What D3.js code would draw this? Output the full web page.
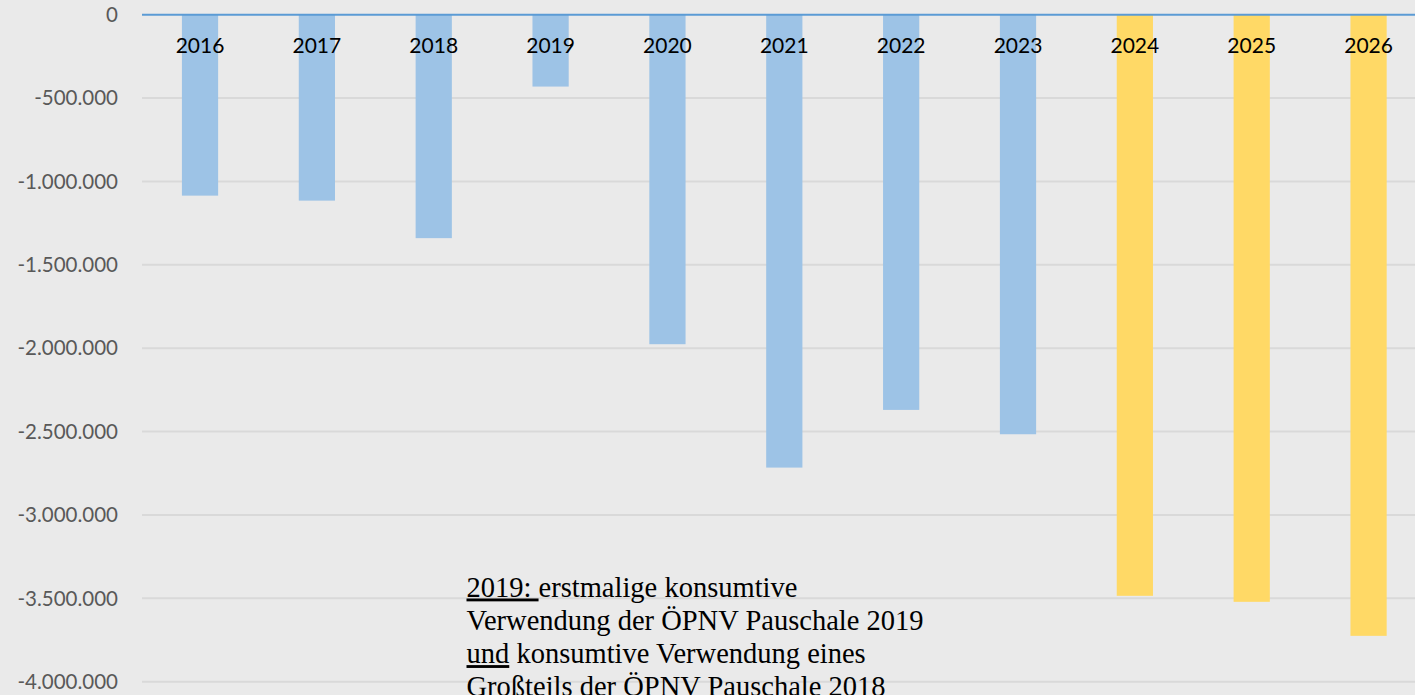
<!DOCTYPE html>
<html>
<head>
<meta charset="utf-8">
<script src="https://cdn.jsdelivr.net/npm/d3@7/dist/d3.min.js"></script>
<style>
html, body { margin: 0; padding: 0; background: #EAEAEA; overflow: hidden; }
svg { display: block; }
</style>
</head>
<body>
<svg id="chart" width="1415" height="695"></svg>
<script>
const categories = ["2016","2017","2018","2019","2020","2021","2022","2023","2024","2025","2026"];
const values = [-1085000,-1115000,-1340000,-431000,-1976000,-2716000,-2370000,-2516000,-3485000,-3521000,-3725000];
const seriesColorKey = ["ist","ist","ist","ist","ist","ist","ist","ist","plan","plan","plan"];
const yTicks = [0,-500000,-1000000,-1500000,-2000000,-2500000,-3000000,-3500000,-4000000];
const noteLines = [
  [{t:"2019: ", u:true},{t:"erstmalige konsumtive", u:false}],
  [{t:"Verwendung der ÖPNV Pauschale 2019", u:false}],
  [{t:"und", u:true},{t:" konsumtive Verwendung eines", u:false}],
  [{t:"Großteils der ÖPNV Pauschale 2018", u:false}]
];

const svg = d3.select("#chart");
const W = 1415, H = 695;
svg.append("rect").attr("width", W).attr("height", H).attr("fill", "#EAEAEA");

const x = d3.scaleBand().domain(categories).range([141.6, 1427]).paddingInner(0.69).paddingOuter(0.345);
const y = d3.scaleLinear().domain([0, -4000000]).range([14.7, 681.7]);
const color = d3.scaleOrdinal().domain(["ist","plan"]).range(["#9DC3E6","#FFD966"]);
const fmt = v => v === 0 ? "0" : d3.format(",")(v).replace(/,/g, ".").replace("−","-");

// gridlines
svg.append("g").selectAll("line").data(yTicks.filter(d => d !== 0)).join("line")
  .attr("x1", 142).attr("x2", W)
  .attr("y1", d => y(d)).attr("y2", d => y(d))
  .attr("stroke", "#D9D9D9").attr("stroke-width", 2);

// y labels
svg.append("g").selectAll("text").data(yTicks).join("text")
  .attr("x", 118).attr("y", d => y(d)).attr("dy", "0.35em")
  .attr("text-anchor", "end")
  .attr("font-family", "Lato, 'Open Sans', sans-serif").attr("font-size", 20.5)
  .attr("fill", "#595959")
  .text(d => fmt(d));

// bars
svg.append("g").selectAll("rect").data(categories).join("rect")
  .attr("x", (d) => x(d))
  .attr("width", x.bandwidth())
  .attr("y", y(0))
  .attr("height", (d, i) => y(values[i]) - y(0))
  .attr("fill", (d, i) => color(seriesColorKey[i]));

// zero axis line
svg.append("line").attr("x1", 142).attr("x2", W).attr("y1", y(0)).attr("y2", y(0))
  .attr("stroke", "#5B9BD5").attr("stroke-width", 2);

// category labels
svg.append("g").selectAll("text").data(categories).join("text")
  .attr("x", d => x(d) + x.bandwidth() / 2)
  .attr("y", 53)
  .attr("text-anchor", "middle")
  .attr("font-family", "Lato, 'Open Sans', sans-serif").attr("font-size", 21)
  .attr("fill", "#000")
  .text(d => d);

// annotation
const note = svg.append("g");
noteLines.forEach((line, i) => {
  const t = note.append("text")
    .attr("x", 466.5).attr("y", 596.5 + i * 33.3)
    .attr("font-family", "'Liberation Serif', 'Times New Roman', serif")
    .attr("font-size", 28.5).attr("fill", "#000")
    .attr("xml:space", "preserve");
  line.forEach(seg => {
    t.append("tspan").text(seg.t)
      .attr("text-decoration", seg.u ? "underline" : null)
      .style("white-space", "pre");
  });
});
</script>
</body>
</html>
